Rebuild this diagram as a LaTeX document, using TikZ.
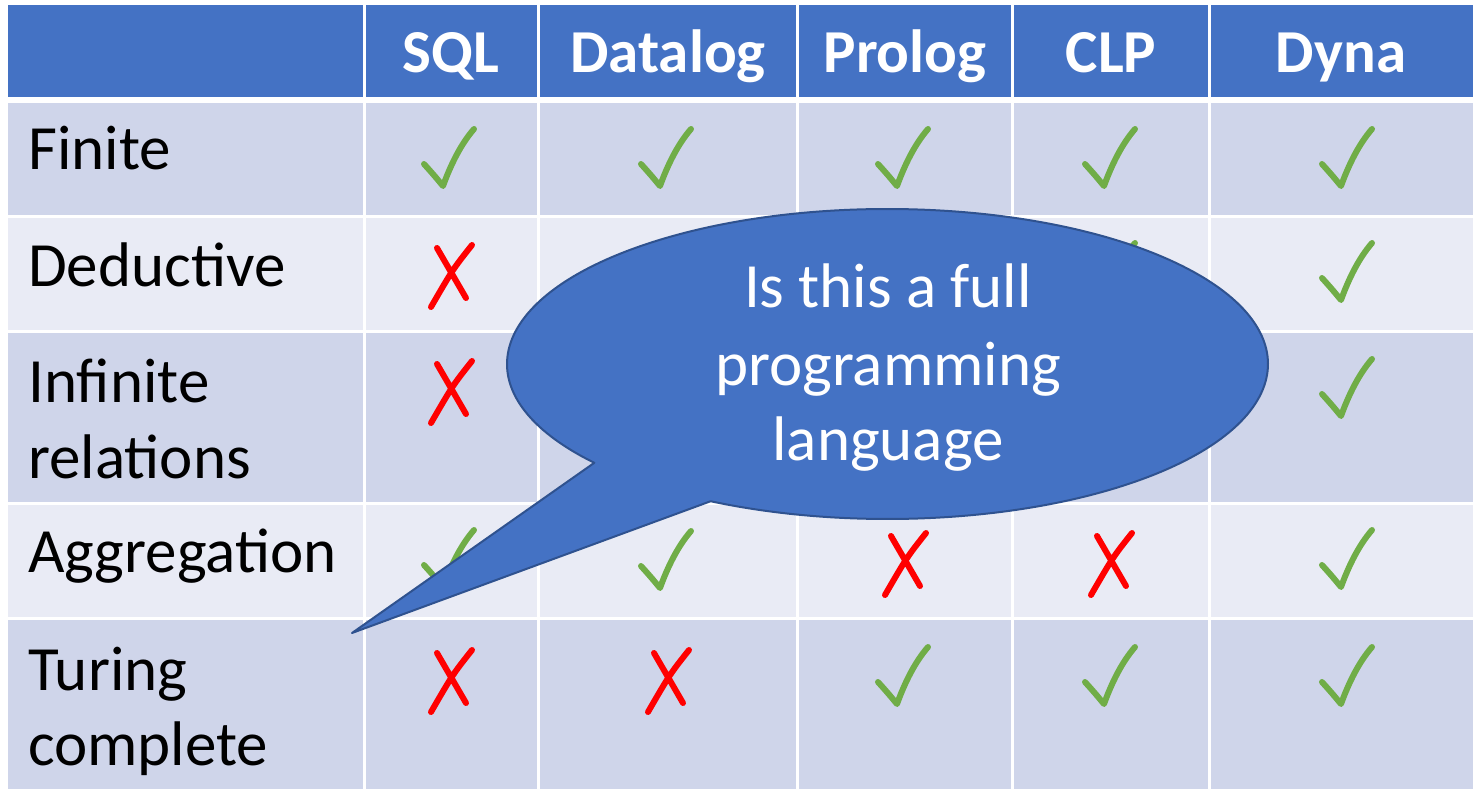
\documentclass[tikz,border=0pt]{standalone}
\usepackage{fontspec}
\setmainfont{Carlito}
\usetikzlibrary{calc}
\definecolor{hdr}{HTML}{4472C4}
\definecolor{rowA}{HTML}{CFD5EA}
\definecolor{rowB}{HTML}{E9EBF5}
\definecolor{chkgreen}{HTML}{70AD47}
\definecolor{xred}{HTML}{FF0000}
\definecolor{bubedge}{HTML}{2F528F}
\tikzset{
  sep/.style={draw=white,line width=3pt},
  chkmark/.style={draw=chkgreen,line width=6pt,line cap=round,line join=round},
  xmark/.style={draw=xred,line width=6pt,line cap=round},
  rowlabel/.style={anchor=base west,inner sep=0pt,font=\fontsize{63}{76}\selectfont},
  hdrlabel/.style={anchor=base,inner sep=0pt,text=white,font=\fontsize{61}{73}\selectfont\bfseries},
  bubtext/.style={anchor=base,inner sep=0pt,text=white,font=\fontsize{63}{76}\selectfont},
  bubble/.style={fill=hdr,draw=bubedge,line width=2pt,line join=round}
}
\newcommand{\chkat}[2]{\draw[chkmark,shift={(#1,#2)}] (-19,-22) .. controls (-10,-12) .. (0,0) .. controls (8,-22) and (18,-42) .. (31,-57);}
\newcommand{\xat}[2]{\draw[xmark,shift={(#1,#2)}] (21,-30) .. controls (2,-6) .. (-20,32) (-14,-27) -- (15,23);}
\begin{document}
\begin{tikzpicture}[x=1pt,y=-1pt]
\useasboundingbox (0,0) rectangle (1473,789);
\fill[white] (0,0) rectangle (1473,789);
% row fills
\fill[hdr] (8,5) rectangle (1473,100);
\fill[rowA] (8,100) rectangle (1473,216);
\fill[rowB] (8,216) rectangle (1473,331.5);
\fill[rowA] (8,331.5) rectangle (1473,503.5);
\fill[rowB] (8,503.5) rectangle (1473,618.5);
\fill[rowA] (8,618.5) rectangle (1473,789);
% separators
\foreach \xx in {364.5,538.5,797.5,1012.5,1209.5} \draw[sep] (\xx,5) -- (\xx,789);
\draw[draw=white,line width=6pt] (8,100) -- (1473,100);
\foreach \yy in {216,331.5,503.5,618.5} \draw[sep] (8,\yy) -- (1473,\yy);
% header
\node[hdrlabel] (hSQL) at (451,73) {SQL};
\node[hdrlabel] (hDatalog) at (668,73) {Datalog};
\node[hdrlabel] (hProlog) at (905,73) {Prolog};
\node[hdrlabel] (hCLP) at (1111,73) {CLP};
\node[hdrlabel] (hDyna) at (1341,73) {Dyna};
% row labels
\node[rowlabel] (rFinite) at (28,170) {Finite};
\node[rowlabel] (rDeductive) at (28,286) {Deductive};
\node[rowlabel] (rInfinite) at (28,402) {Infinite};
\node[rowlabel] (rRelations) at (28,478) {relations};
\node[rowlabel] (rAggregation) at (28,572) {Aggregation};
\node[rowlabel] (rTuring) at (28,690) {Turing};
\node[rowlabel] (rComplete) at (28,765) {complete};
% marks
\chkat{443}{186}\chkat{660}{186}\chkat{897}{186}\chkat{1104}{186}\chkat{1341}{186}
\xat{451}{275}\chkat{1104}{300}\chkat{1341}{300}
\xat{451}{391}\chkat{1341}{416}
\chkat{443}{587}\chkat{660}{588}\xat{905}{563}\xat{1111}{563}\chkat{1341}{587}
\xat{451}{680}\xat{668}{680}\chkat{897}{704}\chkat{1104}{704}\chkat{1341}{704}
% callout
\coordinate (bc) at (887.5,364);
\coordinate (tip) at (352,633);
\path[bubble] ($(bc)+(242.3:380.5pt and 155pt)$) -- (tip) -- ($(bc)+(219.6:380.5pt and 155pt)$)
  arc[start angle=219.6,end angle=-117.7,x radius=380.5pt,y radius=155pt] -- cycle;
\node[bubtext] (b1) at (888,307) {Is this a full};
\node[bubtext] (b2) at (888,385) {programming};
\node[bubtext] (b3) at (888,460) {language};
\end{tikzpicture}
\end{document}
